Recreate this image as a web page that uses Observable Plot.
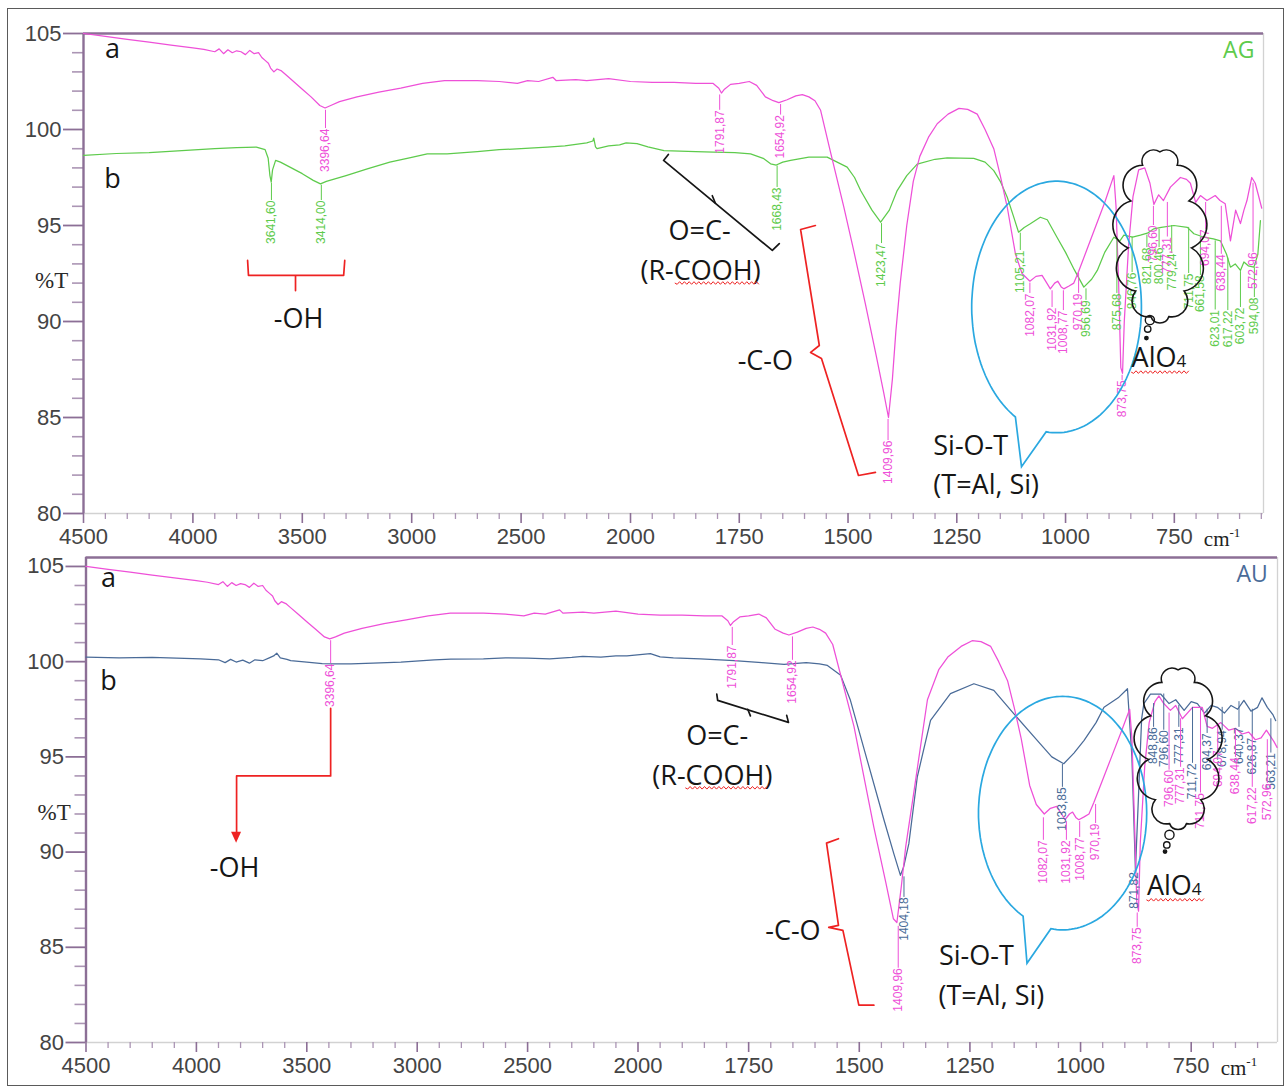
<!DOCTYPE html>
<html><head><meta charset="utf-8">
<script src="https://cdn.jsdelivr.net/npm/d3@7"></script>
<script src="https://cdn.jsdelivr.net/npm/@observablehq/plot@0.6"></script>
<style>
body{margin:0;background:#fff;}
#wrap{position:relative;width:1288px;height:1088px;overflow:hidden;background:#fff;}
#border{position:absolute;left:7px;top:8px;width:1277px;height:1078px;border:1.5px solid #5a5a5a;box-sizing:border-box;pointer-events:none;}
#top{position:absolute;left:0;top:0;}
#bot{position:absolute;left:0;top:552px;}
</style></head><body>
<div id="wrap"><div id="top"></div><div id="bot"></div><div id="border"></div></div>
<script>
// ---------------- ticks ----------------
const xMajorTicks = [4500,4000,3500,3000,2500,2000,1750,1500,1250,1000,750];
const xMinorTicks = [4400,4300,4200,4100,3900,3800,3700,3600,3400,3300,3200,3100,2900,2800,2700,2600,2400,2300,2200,2100,
  1950,1900,1850,1800,1700,1650,1600,1550,1450,1400,1350,1300,1200,1150,1100,1050,950,900,850,800,700,650,600,550];
const yMajorTicks = [80,85,90,95,100,105];
const yMinorTicks = [81,82,83,84,86,87,88,89,91,92,93,94,96,97,98,99,101,102,103,104];

// ---------------- spectra [wavenumber, %T] ----------------
const agA = [[4500,105.0],[4400,104.85],[4300,104.7],[4200,104.55],[4100,104.4],[4000,104.25],[3950,104.17],[3900,104.05],[3880,104.2],[3860,103.95],[3840,104.15],[3820,104.0],[3800,104.1],[3780,104.05],[3760,103.9],[3740,104.12],[3720,103.95],[3700,104.0],[3685,103.75],[3670,103.6],[3655,103.45],[3645,103.2],[3630,103.0],[3615,103.15],[3595,103.05],[3575,102.85],[3540,102.5],[3500,102.1],[3460,101.7],[3420,101.25],[3396,101.12],[3370,101.25],[3330,101.45],[3250,101.7],[3150,101.95],[3050,102.15],[2950,102.4],[2850,102.55],[2700,102.55],[2600,102.5],[2517,102.4],[2470,102.55],[2420,102.5],[2355,102.72],[2340,102.55],[2250,102.6],[2200,102.55],[2100,102.65],[2000,102.5],[1950,102.45],[1900,102.45],[1850,102.4],[1810,102.4],[1797,102.15],[1791,101.9],[1784,102.1],[1770,102.35],[1750,102.4],[1727,102.5],[1710,102.3],[1690,101.7],[1672,101.5],[1659,101.4],[1640,101.55],[1620,101.75],[1605,101.82],[1590,101.7],[1576,101.5],[1563,101.0],[1540,98.8],[1510,96.0],[1487,93.7],[1460,90.9],[1435,88.2],[1418,86.3],[1407,85.0],[1398,87.0],[1390,89.5],[1380,92.0],[1365,95.0],[1350,97.3],[1335,98.6],[1315,99.6],[1295,100.3],[1270,100.8],[1245,101.1],[1225,101.05],[1203,100.8],[1185,100.0],[1165,99.0],[1150,97.6],[1134,95.95],[1115,93.5],[1100,92.5],[1082,92.1],[1068,92.35],[1054,92.4],[1043,92.0],[1035,91.7],[1025,92.0],[1018,92.1],[1010,91.8],[1004,91.7],[992,91.85],[981,92.0],[970,92.6],[950,93.8],[930,95.0],[910,96.2],[889,97.6],[884,96.0],[878,92.0],[873,87.6],[869,87.3],[865,90.0],[855,94.0],[845,96.5],[832,97.9],[818,98.0],[806,97.2],[797,96.1],[786,96.6],[775,96.3],[759,97.0],[736,97.5],[722,97.4],[713,97.2],[701,96.2],[690,96.56],[675,96.3],[656,96.56],[645,96.3],[633,96.13],[621,94.2],[609,95.8],[598,95.1],[590,95.8],[583,96.3],[572,97.5],[564,97.2],[557,96.6],[549,95.9]];

const agB = [[4500,98.65],[4350,98.75],[4200,98.8],[4050,98.9],[3900,99.0],[3800,99.05],[3710,99.08],[3670,98.95],[3656,98.5],[3648,97.6],[3642,97.26],[3636,97.9],[3622,98.39],[3600,98.3],[3550,98.0],[3500,97.7],[3450,97.35],[3417,97.17],[3390,97.3],[3300,97.6],[3203,97.95],[3100,98.3],[3000,98.55],[2929,98.73],[2838,98.73],[2700,98.85],[2600,98.95],[2500,99.0],[2381,99.08],[2300,99.15],[2200,99.3],[2172,99.4],[2168,99.55],[2160,99.1],[2153,99.0],[2100,99.15],[2050,99.2],[2020,99.3],[1985,99.26],[1960,99.1],[1923,98.9],[1850,98.85],[1809,98.82],[1760,98.8],[1724,98.73],[1695,98.5],[1678,98.21],[1665,98.15],[1650,98.3],[1632,98.39],[1590,98.56],[1548,98.56],[1525,98.3],[1502,98.04],[1485,97.5],[1471,96.82],[1445,95.8],[1425,95.17],[1405,95.8],[1387,96.82],[1365,97.6],[1341,98.2],[1300,98.45],[1272,98.52],[1211,98.5],[1185,98.3],[1165,97.86],[1150,97.3],[1134,96.47],[1120,95.5],[1108,94.65],[1095,94.9],[1081,95.09],[1058,95.43],[1042,95.3],[1020,94.4],[1000,93.6],[980,92.7],[958,91.79],[940,92.2],[927,92.66],[910,93.6],[889,94.39],[875,94.2],[866,94.5],[846,94.4],[828,94.5],[812,94.6],[797,94.83],[780,94.9],[751,95.0],[720,94.9],[705,94.57],[683,94.4],[660,94.3],[644,94.2],[630,93.5],[621,92.83],[610,93.0],[598,92.66],[590,93.1],[580,92.9],[567,92.83],[558,93.5],[552,95.26]];

const auA = [[4500,105.0],[4400,104.85],[4300,104.7],[4200,104.55],[4100,104.4],[4000,104.25],[3950,104.17],[3900,104.05],[3880,104.2],[3860,103.95],[3840,104.15],[3820,104.0],[3800,104.1],[3780,104.05],[3760,103.9],[3740,104.12],[3720,103.95],[3700,104.0],[3685,103.75],[3670,103.6],[3655,103.45],[3645,103.2],[3630,103.0],[3615,103.15],[3595,103.05],[3575,102.85],[3540,102.5],[3500,102.1],[3460,101.7],[3420,101.3],[3396,101.2],[3370,101.3],[3330,101.5],[3250,101.75],[3150,102.0],[3050,102.2],[2950,102.4],[2850,102.55],[2700,102.55],[2600,102.5],[2517,102.4],[2470,102.55],[2420,102.5],[2355,102.72],[2340,102.55],[2250,102.6],[2200,102.55],[2100,102.65],[2000,102.5],[1950,102.45],[1900,102.45],[1850,102.4],[1810,102.4],[1797,102.15],[1791,101.9],[1784,102.1],[1770,102.35],[1750,102.4],[1727,102.5],[1710,102.3],[1690,101.7],[1672,101.5],[1659,101.4],[1640,101.55],[1620,101.75],[1605,101.82],[1590,101.7],[1576,101.5],[1560,100.9],[1512,96.6],[1467,91.3],[1440,88.4],[1423,86.5],[1415,86.3],[1405,88.2],[1395,90.3],[1377,93.1],[1360,95.8],[1346,98.0],[1320,99.6],[1300,100.24],[1270,100.8],[1245,101.1],[1225,101.05],[1203,100.8],[1185,100.0],[1165,99.0],[1150,97.6],[1134,95.95],[1115,93.5],[1100,92.5],[1082,92.0],[1068,92.3],[1054,92.4],[1043,92.0],[1035,91.7],[1025,92.0],[1018,92.1],[1010,91.8],[1004,91.7],[992,91.85],[981,92.0],[970,92.6],[950,93.8],[930,95.0],[910,96.2],[889,97.5],[884,96.0],[878,91.5],[873,87.4],[869,86.9],[865,90.5],[855,94.5],[845,96.8],[832,97.9],[823,98.2],[812,97.8],[797,97.44],[785,97.7],[770,97.0],[747,97.6],[725,97.6],[714,96.6],[702,96.5],[683,96.8],[665,96.4],[650,96.5],[635,96.2],[620,96.3],[605,95.9],[592,96.0],[580,96.4],[563,95.8],[556,95.5]];

const auB = [[4500,100.24],[4350,100.2],[4200,100.22],[3981,100.15],[3900,100.1],[3870,99.95],[3845,100.12],[3820,99.98],[3790,100.08],[3760,99.92],[3735,100.1],[3700,100.05],[3670,100.2],[3650,100.3],[3636,100.45],[3620,100.2],[3590,100.12],[3573,100.05],[3500,99.98],[3430,99.9],[3376,99.89],[3300,99.88],[3200,99.92],[3074,99.97],[2923,100.1],[2848,100.13],[2700,100.15],[2600,100.2],[2500,100.18],[2400,100.15],[2300,100.22],[2250,100.28],[2168,100.24],[2100,100.3],[2050,100.3],[1972,100.42],[1950,100.25],[1920,100.2],[1859,100.15],[1783,100.05],[1720,99.95],[1670,99.86],[1620,99.95],[1590,99.88],[1572,99.8],[1542,99.28],[1520,97.97],[1482,94.82],[1444,91.67],[1422,89.92],[1407,88.78],[1400,89.2],[1388,90.44],[1369,93.94],[1339,96.92],[1294,98.32],[1241,98.84],[1196,98.49],[1151,97.27],[1098,95.87],[1065,95.0],[1038,94.64],[1015,95.2],[992,95.87],[965,96.8],[947,97.61],[915,98.1],[894,98.58],[884,95.0],[876,89.04],[869,93.0],[862,97.0],[857,97.8],[842,98.3],[819,98.3],[800,97.8],[785,98.0],[766,97.44],[750,97.9],[736,97.8],[720,97.3],[705,97.7],[691,97.6],[675,97.3],[660,97.7],[645,97.5],[631,97.97],[615,97.4],[600,97.6],[590,98.1],[578,97.6],[565,97.2],[559,96.9]];

// ---------------- peak labels [text, wavenumber, label top %T, leader start %T] ----------------
const agALabels = [["3396,64",3394,100.05,101.0],["1791,87",1795,101.0,101.8],["1654,92",1655,100.75,101.3],["1409,96",1408,83.8,84.9],["1082,07",1082,91.46,92.0],["1031,92",1031,90.73,91.6],["1008,77",1005,90.57,91.6],["970,19",970,91.46,92.5],["873,75",870,86.93,87.2],["796,60",798,95.0,96.0],["777,31",766,94.4,96.2],["694,07",678,94.8,96.2],["638,44",642,93.5,96.0],["572,96",569,93.6,97.2]];
const agBLabels = [["3641,60",3641,96.3,97.2],["3414,00",3413,96.3,97.1],["1668,43",1663,96.98,98.1],["1423,47",1423,94.06,95.1],["1105,21",1104,93.7,94.6],["956,69",953,91.1,91.7],["875,68",882,91.46,94.3],["846,76",847,92.55,94.4],["821,68",813,93.85,94.5],["800,46",785,93.85,94.8],["779,24",756,93.54,95.0],["711,75",717,92.5,94.9],["661,58",690,92.4,94.4],["623,01",656,90.6,94.2],["617,22",627,90.57,93.3],["603,72",598,90.73,92.6],["594,08",566,91.25,92.8]];
const auALabels = [["3396,64",3392,99.9,101.1],["1791,87",1787,100.85,101.8],["1654,92",1651,100.07,101.3],["1409,96",1412,83.9,86.1],["1082,07",1084,90.62,91.8],["1031,92",1032,90.62,91.6],["1008,77",1002,90.77,91.6],["970,19",966,91.5,92.5],["873,75",872,86.05,86.8],["796,60",800,94.3,97.3],["777,31",774,94.45,97.0],["711,75",729,93.1,97.5],["694,07",690,95.34,96.7],["638,44",650,94.97,96.4],["617,22",612,93.4,96.2],["572,96",578,93.6,95.9]];
const auBLabels = [["1404,18",1399,87.62,88.7],["1033,85",1041,93.4,94.6],["871,82",879,88.95,89.0],["848,86",835,96.55,97.8],["796,60",812,96.4,98.3],["777,31",778,96.55,97.7],["711,72",747,94.66,97.6],["694,37",714,96.23,97.5],["678,94",680,96.4,97.6],["640,37",642,96.55,97.9],["626,87",612,96.0,97.5],["563,21",570,95.2,97.0]];

// ---------------- annotation texts [text, wavenumber, baseline %T] ----------------
const agNotesCentered = [["a",4367,103.7],["b",4367,96.93],["-OH",3517,89.64],["O=C-",1841,94.22],["(R-COOH)",1839,92.14],["-C-O",1690,87.45]];
const agNotesLeft = [["Si-O-T",1304,83.07],["(T=Al, Si)",1304,81.04]];
const agTag = [["AG",566,103.75]];
const auNotesCentered = [["a",4398,103.9],["b",4398,98.49],["-OH",3827,88.67],["O=C-",1821,95.6],["(R-COOH)",1832,93.5],["-C-O",1650,85.37]];
const auNotesLeft = [["Si-O-T",1320,84.05],["(T=Al, Si)",1321,81.96]];
const auTag = [["AU",577,104.16]];

// ---------------- annotation outlines [wavenumber, %T] ----------------
const agRedLines = [
  [[3750,93.18],[3746,92.4],[3531,92.4],[3531,91.61],[3531,92.4],[3311,92.4],[3306,93.18]],
  [[1575,95.0],[1609,94.79],[1566,88.75],[1586,88.39],[1561,88.07],[1476,81.98],[1437,82.14]]
];
const agBlackLines = [
  [[1913,98.7],[1924,98.39],[1674,93.7],[1658,94.06]],
  [[1805,96.17],[1812,96.55]]
];
const auRedLines = [
  [[3392,97.55],[3392,94.0],[3818,94.0],[3818,90.9]],
  [[1547,90.7],[1574,90.47],[1547,86.15],[1569,86.05],[1537,85.89],[1501,81.96],[1467,81.96]]
];
const auBlackLines = [
  [[1822,98.3],[1820,97.97],[1660,96.81],[1664,97.18]],
  [[1746,97.15],[1752,97.5]]
];
// bubble: [centre wn, centre %T, half-width wn, half-height %T, gap start deg, gap end deg, tip wn, tip %T]
const agBubble = [1019.5,90.73,195,6.55,97,119,1100,82.41];
const auBubble = [1039.5,92.02,190,6.13,98,118,1120,84.14];
// cloud: [centre wn, centre %T, half-width wn, half-height %T]
const agCloud = [782,94.43,73.5,4.38];
const auCloud = [778.5,95.42,67.8,4.12];
const agPuffs = [[805,90.05],[810,89.58],[813,89.11]];
const auPuffs = [[798,90.88],[804,90.35],[808,90.0]];
const agWaves = [[1897,1701,91.98],[848,713,87.34]];
const auWaves = [[1892,1705,93.35],[850,717,87.47]];
const agAlO4 = [847,87.6];
const auAlO4 = [849,87.73];
const auArrowTip = [3818,90.46];

// ---------------- styling ----------------
const PINK = "#ee50d8", GREEN = "#5ecb4c", BLUE = "#4a6b98", RED = "#ee2222", SKY = "#2aa8e0", INK = "#161616";
const AXIS = "#8c6f96", AXIS_MINOR = "#ab95b4", EDGE = "#d2d2d2", NUM = "#444";
const SANS = "'Liberation Sans', Arial, sans-serif";
const NOTE = "'Open Sans', 'Noto Sans', sans-serif";

function curve(data, stroke) {
  return Plot.line(data, {x: d => d[0], y: d => d[1], stroke, strokeWidth: 1.25});
}
function peaks(labels, color) {
  return [
    Plot.ruleX(labels, {x: d => d[1], y1: d => d[3], y2: d => d[2], stroke: color, strokeWidth: 1}),
    Plot.text(labels, {x: d => d[1], y: d => d[2], text: d => d[0], rotate: -90, textAnchor: "end",
      fill: color, fontSize: 12, fontFamily: SANS})
  ];
}
function outlines(polys, stroke) {
  return polys.map(p => Plot.line(p, {x: d => d[0], y: d => d[1], stroke, strokeWidth: 1.7}));
}
function notes(centered, left, tag, tagColor) {
  return [
    Plot.text(centered, {x: d => d[1], y: d => d[2], text: d => d[0], lineAnchor: "bottom", textAnchor: "middle",
      fontSize: 27, fontFamily: NOTE, fill: INK}),
    Plot.text(left, {x: d => d[1], y: d => d[2], text: d => d[0], lineAnchor: "bottom", textAnchor: "start",
      fontSize: 27, fontFamily: NOTE, fill: INK}),
    Plot.text(tag, {x: d => d[1], y: d => d[2], text: d => d[0], lineAnchor: "bottom", textAnchor: "end",
      fontSize: 23, fontFamily: NOTE, fill: tagColor})
  ];
}

function decor(spec) {
  return function (index, scales) {
    const x = scales.x, y = scales.y;
    const rad = Math.PI / 180;
    const g = d3.create("svg:g").attr("text-anchor", "start");
    // speech bubble
    {
      const b = spec.bubble;
      const cx = x(b[0]), cy = y(b[1]);
      const rx = Math.abs(x(b[0] - b[2]) - cx), ry = Math.abs(y(b[1] + b[3]) - cy);
      const pts = [];
      for (let a = b[5]; a < b[4] + 360; a += 2) pts.push([cx + rx * Math.cos(a * rad), cy + ry * Math.sin(a * rad)]);
      pts.push([cx + rx * Math.cos(b[4] * rad), cy + ry * Math.sin(b[4] * rad)]);
      pts.push([x(b[6]), y(b[7])]);
      g.append("path").attr("d", "M" + pts.map(p => p[0].toFixed(1) + "," + p[1].toFixed(1)).join("L") + "Z")
        .attr("fill", "none").attr("stroke", SKY).attr("stroke-width", 1.7);
    }
    // thought cloud
    {
      const c = spec.cloud;
      const cx = x(c[0]), cy = y(c[1]);
      const rx = Math.abs(x(c[0] - c[2]) - cx), ry = Math.abs(y(c[1] + c[3]) - cy);
      const n = 11;
      const pts = d3.range(n + 1).map(i => {
        const a = (-90 + i * 360 / n) * rad;
        return [cx + rx * Math.cos(a), cy + ry * Math.sin(a)];
      });
      let d = "M" + pts[0][0].toFixed(1) + "," + pts[0][1].toFixed(1);
      for (let i = 1; i <= n; i++) {
        const [x0, y0] = pts[i - 1], [x1, y1] = pts[i];
        const r = Math.hypot(x1 - x0, y1 - y0) / 2 * 1.06;
        d += `A${r.toFixed(1)},${r.toFixed(1)} 0 0 1 ${x1.toFixed(1)},${y1.toFixed(1)}`;
      }
      g.append("path").attr("d", d + "Z").attr("fill", "none").attr("stroke", INK).attr("stroke-width", 1.6);
      const radii = [4.6, 3.2, 1.7];
      spec.puffs.forEach((p, i) => {
        g.append("circle").attr("cx", x(p[0])).attr("cy", y(p[1])).attr("r", radii[i])
          .attr("fill", i === 2 ? INK : "none").attr("stroke", INK).attr("stroke-width", 1.4);
      });
    }
    // red wavy underlines
    for (const w of spec.waves) {
      const x0 = x(w[0]), x1 = x(w[1]), yy = y(w[2]);
      let d = `M${x0.toFixed(1)},${yy.toFixed(1)}`; let k = 0;
      for (let xx = x0 + 2.4; xx <= x1; xx += 2.4) d += `L${xx.toFixed(1)},${(yy + (k++ % 2 ? -1.3 : 1.3)).toFixed(1)}`;
      g.append("path").attr("d", d).attr("fill", "none").attr("stroke", RED).attr("stroke-width", 1);
    }
    // AlO4 label
    {
      const t = g.append("text").attr("x", x(spec.alo[0])).attr("y", y(spec.alo[1])).attr("text-anchor", "start")
        .attr("font-family", NOTE).attr("font-size", 27).attr("fill", INK);
      t.append("tspan").text("AlO");
      t.append("tspan").attr("font-size", 17).text("4");
    }
    // arrow head
    if (spec.arrowTip) {
      const tx = x(spec.arrowTip[0]), ty = y(spec.arrowTip[1]);
      g.append("path").attr("d", `M${tx - 5},${ty - 11}L${tx + 5},${ty - 11}L${tx},${ty}Z`).attr("fill", RED);
    }
    // axis titles
    g.append("text").attr("x", x(4500) - 48).attr("y", y(spec.pct)).attr("text-anchor", "start")
      .attr("font-family", "'Liberation Serif', serif").attr("font-size", 23).attr("fill", "#2a2a2a").text("%T");
    const cm = g.append("text").attr("x", x(750) + 30).attr("y", y(80) + 33).attr("text-anchor", "start")
      .attr("font-family", "'Liberation Serif', serif").attr("font-size", 21).attr("fill", "#222");
    cm.append("tspan").text("cm");
    cm.append("tspan").attr("dy", -9).attr("font-size", 13).text("-1");
    return g.node();
  };
}

function panel(cfg) {
  const lo = cfg.xDomain[2];
  const minor = xMinorTicks.filter(t => t >= lo);
  return Plot.plot({
    width: 1288, height: cfg.height,
    marginTop: cfg.mt, marginBottom: cfg.mb, marginLeft: cfg.ml, marginRight: cfg.mr,
    x: {type: "linear", domain: cfg.xDomain, range: cfg.xRange, axis: null},
    y: {domain: cfg.yDomain, axis: null},
    style: {fontFamily: SANS, background: "transparent", overflow: "visible"},
    marks: [
      Plot.ruleY([80], {stroke: EDGE, strokeWidth: 1.3}),
      Plot.ruleX([lo], {stroke: EDGE, strokeWidth: 1.3}),
      Plot.axisY(yMinorTicks, {anchor: "left", tickSize: 11, stroke: AXIS_MINOR, strokeWidth: 1.6, tickFormat: () => "", label: null}),
      Plot.axisY(yMajorTicks, {anchor: "left", tickSize: 20, tickPadding: 2, stroke: AXIS, strokeWidth: 1.8, fill: NUM,
        fontSize: 22, tickFormat: d => String(d), label: null}),
      Plot.axisX(minor, {anchor: "bottom", tickSize: 6, stroke: AXIS_MINOR, strokeWidth: 1.3, tickFormat: () => "", label: null}),
      Plot.axisX(xMajorTicks, {anchor: "bottom", tickSize: 10, tickPadding: 5, stroke: AXIS, strokeWidth: 1.6, fill: NUM,
        fontSize: 22, tickFormat: d => String(d), label: null}),
      Plot.ruleY([cfg.yDomain[1]], {stroke: AXIS, strokeWidth: 2.4}),
      Plot.ruleX([4500], {stroke: AXIS, strokeWidth: 2.4}),
      curve(cfg.b, cfg.bColor),
      curve(cfg.a, PINK),
      ...peaks(cfg.bLabels, cfg.bColor),
      ...peaks(cfg.aLabels, PINK),
      ...outlines(cfg.red, RED),
      ...outlines(cfg.black, INK),
      ...notes(cfg.centered, cfg.left, cfg.tag, cfg.bColor),
      decor(cfg.decor)
    ]
  });
}

document.getElementById("top").append(panel({
  height: 552, mt: 33, mb: 39, ml: 83, mr: 25,
  xDomain: [4500, 2000, 545], xRange: [83, 630, 1263], yDomain: [80, 105],
  a: agA, b: agB, bColor: GREEN, aLabels: agALabels, bLabels: agBLabels,
  red: agRedLines, black: agBlackLines,
  centered: agNotesCentered, left: agNotesLeft, tag: agTag,
  decor: {bubble: agBubble, cloud: agCloud, puffs: agPuffs, waves: agWaves, alo: agAlO4, pct: 91.72}
}));
document.getElementById("bot").append(panel({
  height: 536, mt: 5, mb: 46, ml: 85.5, mr: 11,
  xDomain: [4500, 2000, 555], xRange: [85.5, 637.5, 1277], yDomain: [80, 105.47],
  a: auA, b: auB, bColor: BLUE, aLabels: auALabels, bLabels: auBLabels,
  red: auRedLines, black: auBlackLines,
  centered: auNotesCentered, left: auNotesLeft, tag: auTag,
  decor: {bubble: auBubble, cloud: auCloud, puffs: auPuffs, waves: auWaves, alo: auAlO4, arrowTip: auArrowTip, pct: 91.67}
}));
</script>
</body></html>
